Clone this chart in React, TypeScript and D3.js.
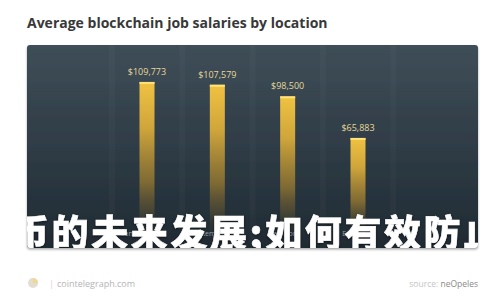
import React from "react";
import * as d3 from "d3";

const categories = ["San Francisco", "Remote", "New York", "Europe"];
const salaries = [109773, 107579, 98500, 65883];
const title = "Average blockchain job salaries by location";
const overlay = "币的未来发展;如何有效防止";
const footerLeft = "cointelegraph.com";
const footerSourceLabel = "source:";
const footerSource = "neOpeles";

export default function App() {
  const W = 500, H = 300;
  const panel = { x: 27, y: 45, w: 451, h: 203 };
  const y = d3.scaleLinear().domain([0, 120000]).range([222, 68.9]);
  const x = d3.scalePoint<string>().domain(categories).range([147, 358]);
  const bw = 15;
  const fmt = (v: number) => "$" + d3.format(",")(v);
  const gridX = d3.range(categories.length + 1).map((i) => 112 + i * 70.3);

  return (
    <svg width={W} height={H} style={{ position: "absolute", left: 0, top: 0, background: "#fff" }}>
      <defs>
        <linearGradient id="bg" x1="0" y1="0" x2="0" y2="1">
          <stop offset="0" stopColor="#3f4e58" />
          <stop offset="0.5" stopColor="#2f3c46" />
          <stop offset="1" stopColor="#1f2a32" />
        </linearGradient>
        <linearGradient id="bar" x1="0" y1="0" x2="0" y2="1">
          <stop offset="0" stopColor="#f0c242" stopOpacity="1" />
          <stop offset="0.3" stopColor="#d8ab3a" stopOpacity="0.95" />
          <stop offset="0.65" stopColor="#9c7c30" stopOpacity="0.75" />
          <stop offset="1" stopColor="#6a5528" stopOpacity="0" />
        </linearGradient>
        <clipPath id="pclip">
          <rect x={panel.x} y={panel.y} width={panel.w} height={panel.h} rx={3} />
        </clipPath>
        <filter id="sh" x="-5%" y="-5%" width="110%" height="115%">
          <feDropShadow dx="0" dy="1.5" stdDeviation="1.2" floodColor="#000" floodOpacity="0.35" />
        </filter>
      </defs>
      <text x={27} y={28} fontFamily="'Open Sans', sans-serif" fontWeight={700} fontSize={14} fill="#383838">
        {title}
      </text>
      <rect x={panel.x} y={panel.y} width={panel.w} height={panel.h} rx={3} fill="url(#bg)" filter="url(#sh)" />
      <g clipPath="url(#pclip)">
        {gridX.map((gx, i) => (
          <rect key={i} x={gx - 3} y={panel.y} width={6} height={panel.h} fill="#ffffff" opacity={0.025} />
        ))}
        {categories.map((c, i) => {
          const cx = x(c)!;
          const top = y(salaries[i]);
          return (
            <g key={c}>
              <rect x={cx - bw / 2} y={top} width={bw} height={236 - top} fill="url(#bar)" />
              <rect x={cx - bw / 2} y={top} width={bw} height={2} fill="#ffe27a" />
              <text x={cx} y={top - 7} textAnchor="middle" fontFamily="'Open Sans', sans-serif" fontSize={9} fill="#e6d89a">
                {fmt(salaries[i])}
              </text>
              <text x={cx - 4} y={236} textAnchor="middle" fontFamily="'Open Sans', sans-serif" fontSize={7} fill="#9aa3a8">
                {c}
              </text>
            </g>
          );
        })}
        <text x={12} y={247} fontFamily="'Noto Sans CJK SC', sans-serif" fontWeight={900} fontSize={37} letterSpacing={2.6}
          fill="#ffffff" stroke="#ffffff" strokeWidth={0.6} style={{ filter: "drop-shadow(0px 1px 1px rgba(0,0,0,0.5))" }}>
          {overlay}
        </text>
      </g>
      <circle cx={33} cy={283} r={5} fill="#e2ddd0" />
      <path d="M33,278 A5,5 0 0,1 38,283 L33,283 Z" fill="#f0d890" />
      <text x={49} y={287} fontFamily="'Open Sans', sans-serif" fontSize={9} fill="#d8d8d8">|</text>
      <text x={57} y={287} fontFamily="'Open Sans', sans-serif" fontSize={9} fill="#b4b4b4">{footerLeft}</text>
      <text x={478} y={287} textAnchor="end" fontFamily="'Open Sans', sans-serif" fontSize={8.5}>
        <tspan fill="#c4c4c4">{footerSourceLabel} </tspan>
        <tspan fill="#8a8a8a">{footerSource}</tspan>
      </text>
    </svg>
  );
}
